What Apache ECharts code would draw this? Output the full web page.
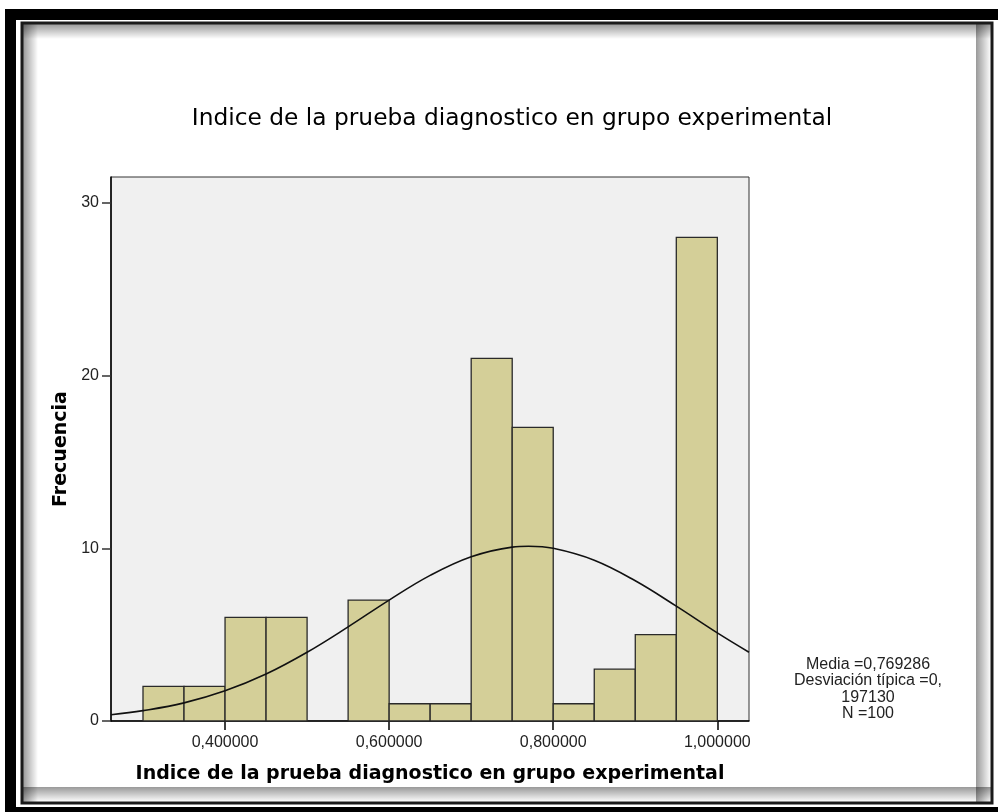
<!DOCTYPE html>
<html>
<head>
<meta charset="utf-8">
<script src="https://cdn.jsdelivr.net/npm/echarts@6/dist/echarts.min.js"></script>
<style>
  html, body { margin: 0; padding: 0; background: #fff; }
  #main { width: 998px; height: 812px; }
</style>
</head>
<body>
<div id="main"></div>
<script>
// histograma: limites de los intervalos y frecuencias
var binStart = [0.30, 0.35, 0.40, 0.45, 0.50, 0.55, 0.60, 0.65, 0.70, 0.75, 0.80, 0.85, 0.90, 0.95];
var binEnd   = [0.35, 0.40, 0.45, 0.50, 0.55, 0.60, 0.65, 0.70, 0.75, 0.80, 0.85, 0.90, 0.95, 1.00];
var freq     = [2, 2, 6, 6, 0, 7, 1, 1, 21, 17, 1, 3, 5, 28];

// curva normal
var curveX = [0.261, 0.30, 0.35, 0.40, 0.45, 0.50, 0.55, 0.60, 0.65, 0.70, 0.75, 0.77, 0.80, 0.85, 0.90, 0.95, 1.00, 1.0386];
var curveY = [0.36, 0.60, 1.05, 1.75, 2.72, 3.98, 5.45, 7.00, 8.43, 9.51, 10.07, 10.12, 10.00, 9.31, 8.12, 6.65, 5.10, 3.98];

var xTicks = [0.4, 0.6, 0.8, 1.0];
var yTicks = [0, 10, 20, 30];

var statsText = ['Media =0,769286', 'Desviación típica =0,', '197130', 'N =100'];

var font = 'Liberation Sans, Arial, sans-serif';
var fontWide = 'DejaVu Sans, Verdana, sans-serif';

var histData = binStart.map(function (s, i) { return [s, binEnd[i], freq[i]]; });
var curveData = curveX.map(function (x, i) { return [x, curveY[i]]; });

function shadeStrip(x, y, w, h, x2, y2) {
    return {
        type: 'rect', silent: true,
        shape: { x: x, y: y, width: w, height: h },
        style: {
            fill: {
                type: 'linear', x: 0, y: 0, x2: x2, y2: y2,
                colorStops: [{ offset: 0, color: 'rgba(0,0,0,0.4)' }, { offset: 1, color: 'rgba(0,0,0,0)' }]
            }
        }
    };
}

var chart = echarts.init(document.getElementById('main'));
chart.setOption({
    animation: false,
    backgroundColor: '#fff',
    title: {
        text: 'Indice de la prueba diagnostico en grupo experimental',
        left: 507, top: 102, textAlign: 'center',
        textStyle: { fontFamily: fontWide, fontSize: 23.3, fontWeight: 'normal', color: '#000' }
    },
    grid: {
        left: 111, top: 177, right: 249, bottom: 91,
        show: true, backgroundColor: '#f0f0f0', borderColor: '#333', borderWidth: 1
    },
    xAxis: {
        type: 'value', min: 0.261, max: 1.0386,
        name: 'Indice de la prueba diagnostico en grupo experimental',
        nameLocation: 'middle', nameGap: 44,
        nameTextStyle: { fontFamily: fontWide, fontSize: 19, fontWeight: 'bold', color: '#000' },
        axisLine: { onZero: false, lineStyle: { color: '#000', width: 1.5 } },
        axisTick: { show: true, customValues: xTicks, length: 9, lineStyle: { color: '#000', width: 1.5 } },
        axisLabel: {
            customValues: xTicks, margin: 14,
            fontFamily: font, fontSize: 16, color: '#222',
            formatter: function (v) { return v.toFixed(6).replace('.', ','); }
        },
        splitLine: { show: false }
    },
    yAxis: {
        type: 'value', min: 0, max: 31.5,
        name: 'Frecuencia', nameLocation: 'middle', nameGap: 39, nameRotate: 90,
        nameTextStyle: { fontFamily: fontWide, fontSize: 19, fontWeight: 'bold', color: '#000' },
        axisLine: { show: true, lineStyle: { color: '#000', width: 1.5 } },
        axisTick: { show: true, customValues: yTicks, length: 9, lineStyle: { color: '#333', width: 1.5 } },
        axisLabel: { customValues: yTicks, margin: 12, fontFamily: font, fontSize: 16, color: '#222' },
        splitLine: { show: false }
    },
    series: [{
        type: 'custom',
        data: histData,
        encode: { x: [0, 1], y: 2 },
        renderItem: function (params, api) {
            var p0 = api.coord([api.value(0), api.value(2)]);
            var p1 = api.coord([api.value(1), 0]);
            if (api.value(2) === 0) return;
            return {
                type: 'rect',
                shape: { x: p0[0], y: p0[1], width: p1[0] - p0[0], height: p1[1] - p0[1] },
                style: { fill: '#d4cf98', stroke: '#2a2a2a', lineWidth: 1.3 }
            };
        }
    }, {
        type: 'line',
        data: curveData,
        smooth: 0.4,
        showSymbol: false,
        clip: true,
        lineStyle: { color: '#111', width: 1.6 },
        z: 5
    }],
    graphic: [
        // marco negro exterior
        { type: 'rect', silent: true, shape: { x: 5, y: 9, width: 993, height: 11 }, style: { fill: '#000' } },
        { type: 'rect', silent: true, shape: { x: 5, y: 9, width: 11, height: 803 }, style: { fill: '#000' } },
        { type: 'rect', silent: true, shape: { x: 5, y: 807, width: 993, height: 5 }, style: { fill: '#000' } },
        // marco interior con sombra
        shadeStrip(23, 24, 15, 778, 1, 0),
        shadeStrip(23, 24, 968, 15, 0, 1),
        shadeStrip(976, 24, 15, 778, 1, 0),
        shadeStrip(23, 787, 968, 15, 0, 1),
        { type: 'rect', silent: true, shape: { x: 22, y: 23, width: 970, height: 780 },
          style: { fill: null, stroke: '#1a1a1a', lineWidth: 3 } },
        // estadisticos
        {
            type: 'text', x: 868, y: 656, silent: true,
            style: {
                text: statsText.join('\n'), fontFamily: font, fontSize: 16, lineHeight: 16.5,
                fill: '#222', align: 'center', verticalAlign: 'top'
            }
        }
    ]
});
</script>
</body>
</html>
